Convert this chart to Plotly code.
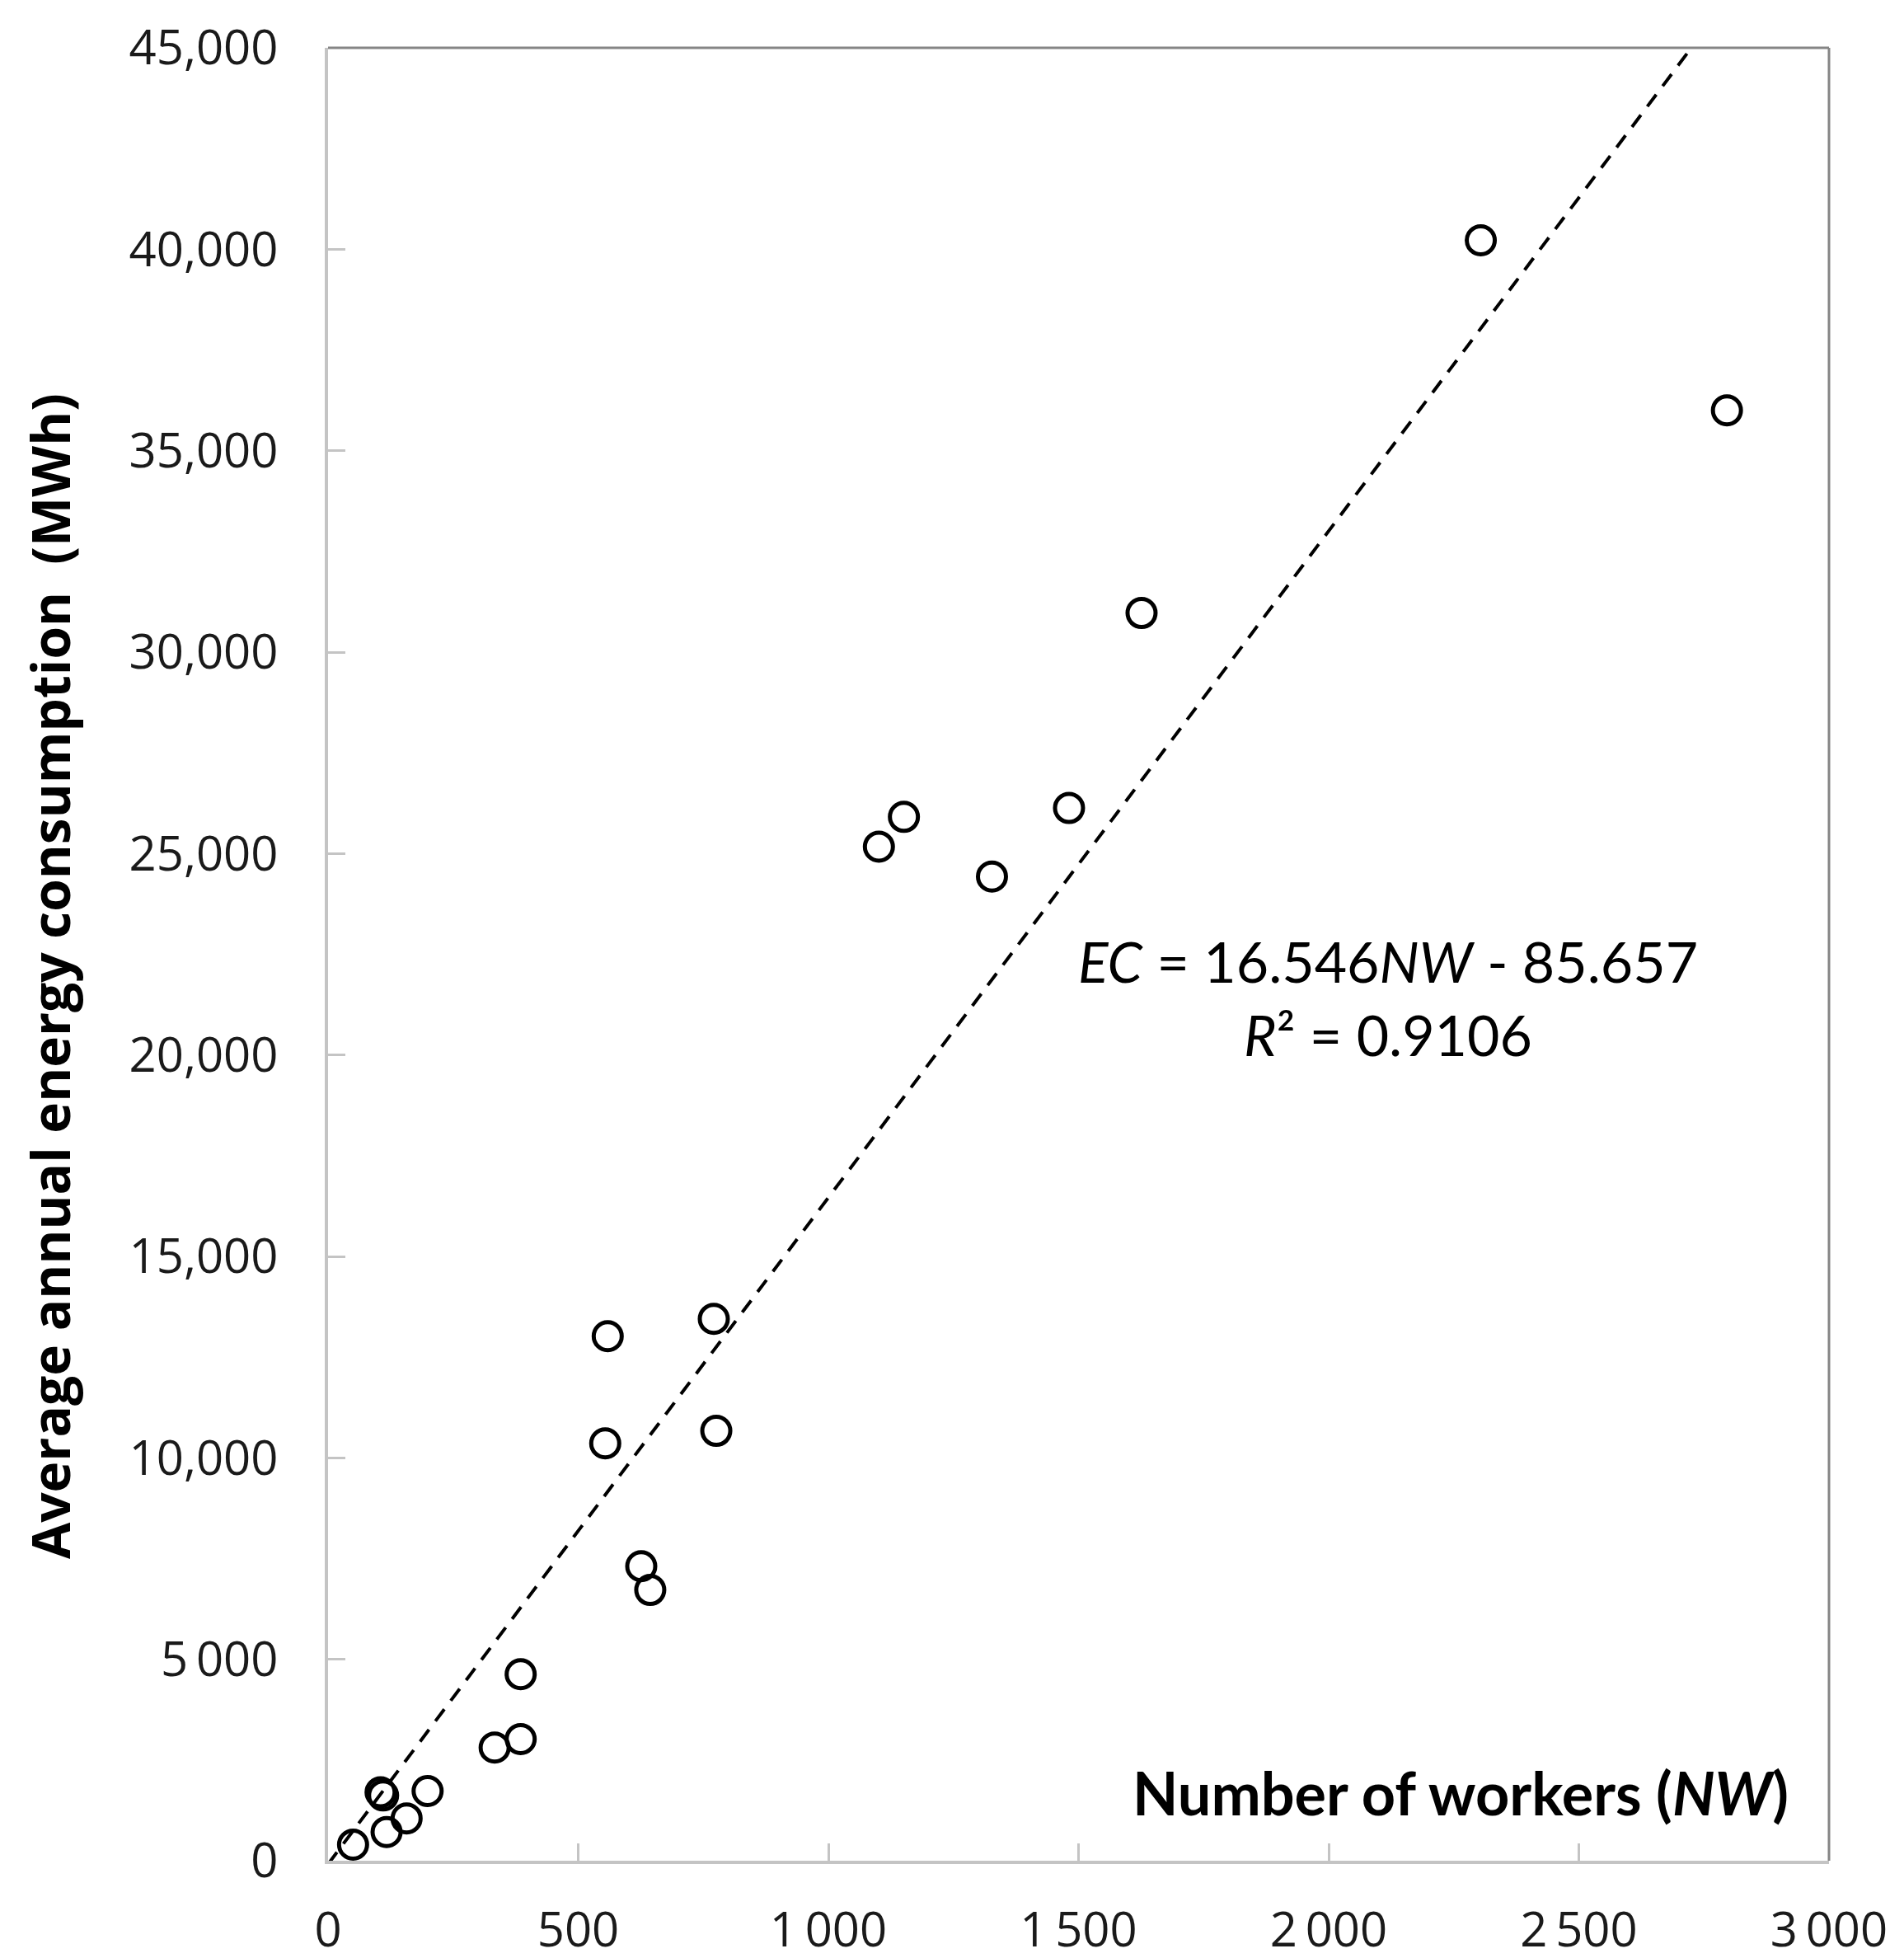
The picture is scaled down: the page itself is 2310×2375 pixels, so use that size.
import plotly.graph_objects as go

# Data
workers = [50, 105, 110, 117, 157, 199, 333, 385, 385, 554, 559, 626, 644, 771, 776,
           1101, 1151, 1327, 1481, 1626, 2304, 2796]
energy = [400, 1700, 1620, 710, 1050, 1730, 2810, 3020, 4630, 10360, 13020, 7310, 6720,
          13450, 10670, 25170, 25910, 24430, 26130, 30970, 40220, 36000]

slope = 16.546
intercept = -85.657
trend_x = [0, 2800]
trend_y = [slope * v + intercept for v in trend_x]

x_tickvals = [0, 500, 1000, 1500, 2000, 2500, 3000]
x_ticktext = ["0", "500", "1\u2009000", "1\u2009500", "2\u2009000", "2\u2009500", "3\u2009000"]
y_tickvals = [0, 5000, 10000, 15000, 20000, 25000, 30000, 35000, 40000, 45000]
y_ticktext = ["0", "5\u2009000", "10,000", "15,000", "20,000", "25,000", "30,000",
              "35,000", "40,000", "45,000"]

fig = go.Figure()
fig.add_trace(go.Scatter(x=trend_x, y=trend_y, mode="lines",
                         line=dict(color="black", width=4, dash="18px,13px"),
                         showlegend=False, hoverinfo="skip"))
fig.add_trace(go.Scatter(x=workers, y=energy, mode="markers",
                         marker=dict(symbol="circle-open", size=34, color="black",
                                     line=dict(width=5, color="black")),
                         showlegend=False))

tick_font = dict(family="Open Sans", size=58, color="#1a1a1a")
axis_gray = "#c4c4c4"

fig.update_layout(
    width=2310, height=2375,
    margin=dict(l=390, r=99, t=50, b=126),
    paper_bgcolor="white", plot_bgcolor="white",
    xaxis=dict(range=[0, 3000], tickvals=x_tickvals, ticktext=x_ticktext,
               showgrid=False, zeroline=False, showline=True, linecolor=axis_gray,
               linewidth=4, ticks="inside", ticklen=21, tickwidth=3, tickcolor=axis_gray,
               tickfont=tick_font, ticklabelstandoff=30, automargin=False,
               ticklabeloverflow="allow"),
    yaxis=dict(range=[0, 45000], tickvals=y_tickvals, ticktext=y_ticktext,
               showgrid=False, zeroline=False, showline=True, linecolor=axis_gray,
               linewidth=4, ticks="inside", ticklen=21, tickwidth=3, tickcolor=axis_gray,
               tickfont=tick_font, ticklabelstandoff=45, automargin=False,
               ticklabeloverflow="allow"),
    shapes=[
        dict(type="line", xref="paper", yref="paper", x0=0, x1=1, y0=1, y1=1,
             line=dict(color="#858585", width=3)),
        dict(type="line", xref="paper", yref="paper", x0=1, x1=1, y0=0, y1=1,
             line=dict(color="#858585", width=3)),
    ],
    annotations=[
        dict(text="<b>Average annual energy consumption  (MWh)</b>", xref="paper", yref="paper",
             x=-0.185, y=0.488, textangle=-90, showarrow=False,
             font=dict(family="Open Sans", size=64, color="black"),
             xanchor="center", yanchor="middle"),
        dict(text="<b>Number of workers (<i>NW</i>)</b>", x=2923, y=1700, xref="x", yref="y",
             showarrow=False, xanchor="right", yanchor="middle",
             font=dict(family="Lato", size=72, color="black")),
        dict(text="<i>EC</i> = 16.546<i>NW</i> - 85.657", x=2118, y=22330, xref="x", yref="y",
             showarrow=False, xanchor="center", yanchor="middle",
             font=dict(family="Lato", size=68, color="black")),
        dict(text="<i>R</i>\u00b2 = 0.9106", x=2118, y=20510, xref="x", yref="y",
             showarrow=False, xanchor="center", yanchor="middle",
             font=dict(family="Lato", size=68, color="black")),
    ],
)

fig.write_html("out.html")
